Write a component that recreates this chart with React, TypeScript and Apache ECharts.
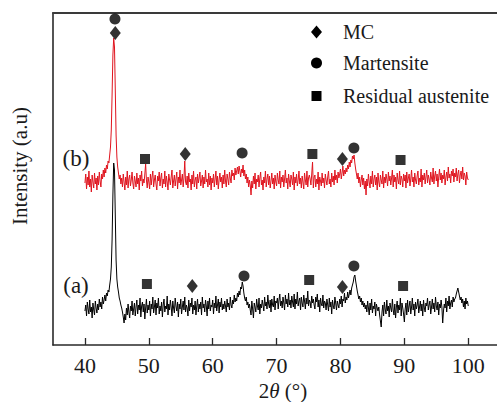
import React, { useEffect, useRef } from "react";
import * as echarts from "echarts";

const angleStart = 40;
const angleStep = 0.125;

// (a) trace, intensity (a.u.), 40° → 100° step 0.125°
const traceA = [
  34, 40, 29, 43, 36, 31, 45, 33, 38, 27, 42, 35, 30, 44, 37, 32,
  41, 35, 46, 38, 43, 36, 48, 41, 45, 50, 44, 52, 49, 55, 53, 60,
  66, 78, 105, 150, 182, 175, 130, 85, 66, 58, 53, 47, 44, 40, 37, 33,
  28, 22, 31, 25, 37, 30, 41, 33, 27, 39, 34, 44, 30, 36, 42, 29,
  38, 45, 31, 40, 35, 47, 28, 39, 43, 33, 41, 26, 37, 46, 32, 40,
  35, 44, 29, 41, 36, 48, 32, 38, 45, 30, 42, 37, 47, 31, 39, 34,
  43, 28, 40, 46, 33, 39, 36, 49, 30, 41, 35, 45, 38, 29, 44, 37,
  32, 47, 39, 34, 43, 28, 41, 36, 46, 31, 38, 44, 35, 48, 33, 40,
  37, 29, 45, 34, 42, 38, 47, 31, 40, 35, 44, 30, 39, 46, 33, 41,
  36, 43, 30, 48, 37, 41, 33, 45, 39, 29, 44, 36, 47, 34, 40, 38,
  45, 31, 42, 37, 49, 34, 40, 46, 32, 43, 38, 47, 35, 41, 36, 44,
  39, 33, 46, 38, 42, 35, 48, 40, 37, 45, 41, 50, 43, 47, 44, 52,
  48, 54, 50, 58, 56, 63, 59, 52, 47, 44, 48, 40, 43, 37, 41, 35,
  30, 44, 36, 27, 42, 38, 33, 46, 39, 35, 47, 31, 41, 37, 45, 40,
  34, 48, 39, 43, 36, 50, 41, 37, 45, 33, 46, 40, 38, 49, 35, 44,
  42, 47, 36, 45, 51, 39, 44, 37, 48, 42, 35, 50, 41, 46, 38, 52,
  40, 45, 37, 49, 43, 38, 51, 36, 46, 41, 53, 39, 44, 47, 35, 48,
  42, 38, 50, 44, 36, 47, 41, 54, 39, 45, 43, 37, 49, 42, 46, 40,
  36, 48, 43, 51, 38, 45, 33, 47, 41, 39, 50, 37, 44, 42, 35, 46,
  40, 34, 47, 38, 43, 31, 45, 39, 36, 48, 42, 35, 44, 40, 37, 46,
  41, 49, 38, 46, 44, 52, 42, 48, 45, 53, 47, 51, 55, 50, 57, 60,
  63, 68, 70, 64, 59, 54, 50, 46, 49, 43, 47, 40, 44, 38, 42, 36,
  40, 33, 44, 37, 30, 42, 35, 46, 32, 39, 36, 43, 29, 41, 37, 34,
  38, 30, 24, 18, 33, 40, 29, 43, 36, 31, 45, 34, 39, 28, 42, 37,
  33, 46, 35, 30, 41, 27, 38, 44, 32, 40, 35, 47, 29, 42, 37, 31,
  23, 36, 42, 30, 45, 33, 39, 44, 31, 38, 47, 35, 41, 29, 43, 36,
  40, 46, 32, 38, 44, 34, 41, 29, 45, 37, 33, 42, 39, 47, 35, 40,
  44, 31, 38, 46, 36, 42, 33, 48, 39, 35, 43, 30, 41, 37, 45, 38,
  22, 34, 41, 37, 47, 33, 44, 39, 49, 36, 42, 45, 38, 48, 43, 46,
  47, 51, 54, 57, 53, 49, 45, 48, 42, 46, 38, 44, 36, 47, 41, 44,
  39,
];

// (b) trace
const traceB = [
  162, 171, 156, 168, 160, 174, 158, 166, 153, 170, 163, 157, 172, 161, 167, 155,
  169, 160, 173, 164, 158, 171, 166, 175, 168, 177, 172, 180, 176, 184, 182, 190,
  198, 215, 250, 290, 307, 298, 255, 210, 188, 178, 172, 166, 170, 161, 167, 158,
  171, 163, 155, 168, 160, 174, 157, 166, 170, 159, 165, 173, 162, 156, 169, 164,
  158, 172, 161, 167, 155, 170, 164, 174, 159, 166, 162, 171, 181, 165, 157, 168,
  163, 156, 171, 160, 168, 174, 158, 165, 170, 161, 155, 169, 164, 173, 159, 167,
  172, 157, 166, 161, 174, 158, 169, 163, 155, 171, 165, 160, 168, 175, 157, 164,
  170, 159, 166, 173, 156, 168, 162, 175, 160, 165, 171, 158, 167, 184, 163, 160,
  169, 157, 172, 163, 166, 155, 170, 161, 174, 158, 165, 168, 156, 171, 162, 167,
  173, 159, 164, 170, 157, 168, 161, 175, 163, 166, 158, 172, 160, 169, 155, 167,
  162, 171, 158, 166, 174, 160, 169, 156, 165, 172, 163, 168, 157, 170, 161, 175,
  164, 158, 171, 166, 160, 173, 167, 162, 175, 169, 172, 165, 177, 170, 174, 178,
  171, 179, 174, 168, 176, 172, 180, 169, 175, 166, 171, 162, 168, 158, 165, 160,
  150, 164, 157, 169, 161, 172, 156, 166, 163, 170, 158, 167, 173, 160, 165, 155,
  168, 162, 174, 158, 166, 171, 160, 169, 157, 164, 172, 161, 167, 156, 170, 163,
  159, 172, 165, 161, 174, 157, 168, 163, 170, 158, 166, 175, 162, 167, 156, 171,
  164, 158, 170, 166, 160, 173, 155, 168, 162, 171, 159, 165, 174, 161, 167, 157,
  169, 163, 156, 172, 165, 160, 174, 158, 167, 170, 166, 160, 171, 183, 157, 168,
  170, 158, 166, 161, 173, 155, 168, 164, 159, 172, 162, 167, 157, 171, 165, 160,
  168, 174, 161, 166, 158, 172, 163, 169, 160, 175, 165, 170, 162, 173, 167, 171,
  176, 166, 172, 179, 169, 175, 171, 177, 173, 180, 176, 183, 178, 185, 182, 189,
  186, 190, 182, 176, 171, 166, 172, 162, 168, 158, 165, 170, 160, 167, 156, 164,
  150, 166, 159, 171, 163, 157, 169, 161, 174, 158, 166, 170, 160, 168, 155, 172,
  163, 158, 170, 165, 161, 174, 157, 168, 162, 171, 166, 159, 173, 164, 169, 160,
  167, 175, 158, 170, 163, 168, 156, 172, 165, 161, 174, 160, 169, 166, 158, 171,
  164, 170, 157, 173, 162, 167, 171, 159, 166, 175, 163, 168, 158, 172, 165, 161,
  169, 174, 160, 167, 163, 176, 158, 170, 165, 172, 161, 168, 175, 162, 170, 166,
  160, 173, 167, 163, 177, 161, 169, 174, 164, 171, 158, 168, 176, 165, 172, 162,
  170, 166, 175, 160, 168, 173, 164, 178, 167, 171, 162, 174, 169, 176, 163, 172,
  168, 177, 164, 171, 175, 162, 170, 174, 166, 178, 165, 172, 169, 160, 173, 167,
  165,
];

const tickValues = [40, 50, 60, 70, 80, 90, 100];

// phase markers [2θ, intensity]
const mcPoints = [
  [44.75, 312],
  [55.7, 191],
  [80.3, 186],
  [56.8, 59],
  [80.3, 58],
];
const martensitePoints = [
  [44.7, 326],
  [64.6, 192],
  [82.1, 197],
  [64.9, 69],
  [82.1, 79],
];
const austenitePoints = [
  [49.4, 186],
  [75.6, 191],
  [89.4, 185],
  [49.7, 61],
  [75.1, 65],
  [89.8, 59],
];

const phaseNames = ["MC", "Martensite", "Residual austenite"];
const sampleLabels = ["(a)", "(b)"];

const FONT = "Liberation Serif";

export default function App() {
  const ref = useRef<HTMLDivElement>(null);

  useEffect(() => {
    if (!ref.current) return;
    const chart = echarts.init(ref.current, undefined, { renderer: "svg" });

    const toPairs = (arr: number[]) =>
      arr.map((v, i) => [angleStart + angleStep * i, v]);

    const textStyle = (extra: any) => ({
      fontFamily: FONT,
      fill: "#1a1a1a",
      ...extra,
    });

    chart.setOption({
      animation: false,
      backgroundColor: "#ffffff",
      grid: { left: 53, right: 0, top: 13, bottom: 57 },
      xAxis: [
        {
          type: "value",
          min: 35,
          max: 104.5,
          axisLine: { show: true, onZero: false, lineStyle: { color: "#2a2a2a", width: 1.6 } },
          axisTick: {
            show: true,
            inside: true,
            length: 7,
            customValues: tickValues,
            lineStyle: { color: "#2a2a2a", width: 1.3 },
          },
          axisLabel: {
            customValues: tickValues,
            fontFamily: FONT,
            fontSize: 22,
            color: "#1a1a1a",
            margin: 9,
          },
          splitLine: { show: false },
        },
        {
          type: "value",
          position: "top",
          min: 35,
          max: 104.5,
          axisLine: { show: true, onZero: false, lineStyle: { color: "#3a3a3a", width: 2 } },
          axisTick: { show: false },
          axisLabel: { show: false },
          splitLine: { show: false },
        },
      ],
      yAxis: {
        type: "value",
        min: 0,
        max: 332,
        axisLine: { show: true, onZero: false, lineStyle: { color: "#2a2a2a", width: 1.6 } },
        axisTick: { show: false },
        axisLabel: { show: false },
        splitLine: { show: false },
      },
      series: [
        {
          name: sampleLabels[0],
          type: "line",
          data: toPairs(traceA),
          showSymbol: false,
          symbol: "none",
          lineStyle: { color: "#000000", width: 1 },
          z: 2,
        },
        {
          name: sampleLabels[1],
          type: "line",
          data: toPairs(traceB),
          showSymbol: false,
          symbol: "none",
          lineStyle: { color: "#e0141e", width: 1 },
          z: 3,
        },
        {
          name: phaseNames[0],
          type: "scatter",
          data: mcPoints,
          symbol: "diamond",
          symbolSize: [11, 14],
          itemStyle: { color: "#000000" },
          z: 5,
        },
        {
          name: phaseNames[1],
          type: "scatter",
          data: martensitePoints,
          symbol: "circle",
          symbolSize: 11,
          itemStyle: { color: "#000000" },
          z: 5,
        },
        {
          name: phaseNames[2],
          type: "scatter",
          data: austenitePoints,
          symbol: "rect",
          symbolSize: 10,
          itemStyle: { color: "#000000" },
          z: 5,
        },
      ],
      graphic: [
        {
          type: "polygon",
          shape: { points: [[316.5, 25.5], [322, 32], [316.5, 38.5], [311, 32]] },
          style: { fill: "#000" },
        },
        { type: "circle", shape: { cx: 316.5, cy: 63, r: 5.5 }, style: { fill: "#000" } },
        { type: "rect", shape: { x: 311.5, y: 91, width: 10, height: 10 }, style: { fill: "#000" } },
        ...phaseNames.map((name, i) => ({
          type: "text",
          x: 343,
          y: [32, 63, 96][i],
          style: textStyle({
            text: name,
            fontSize: 20,
            verticalAlign: "middle",
            textVerticalAlign: "middle",
          }),
        })),
        {
          type: "text",
          x: 76,
          y: 285,
          style: textStyle({
            text: sampleLabels[0],
            fontSize: 23,
            align: "center",
            textAlign: "center",
            verticalAlign: "middle",
            textVerticalAlign: "middle",
          }),
        },
        {
          type: "text",
          x: 76,
          y: 158,
          style: textStyle({
            text: sampleLabels[1],
            fontSize: 23,
            align: "center",
            textAlign: "center",
            verticalAlign: "middle",
            textVerticalAlign: "middle",
          }),
        },
        {
          type: "text",
          x: 20,
          y: 166,
          rotation: Math.PI / 2,
          style: textStyle({
            text: "Intensity (a.u)",
            fontSize: 21,
            align: "center",
            textAlign: "center",
            verticalAlign: "middle",
            textVerticalAlign: "middle",
          }),
        },
        {
          type: "text",
          x: 283,
          y: 391,
          style: textStyle({
            text: "2{it|θ} (°)",
            fontSize: 21,
            align: "center",
            textAlign: "center",
            verticalAlign: "middle",
            textVerticalAlign: "middle",
            rich: {
              it: { fontFamily: FONT, fontSize: 21, fontStyle: "italic", fill: "#1a1a1a" },
            },
          }),
        },
      ],
    });

    return () => chart.dispose();
  }, []);

  return (
    <div
      ref={ref}
      style={{ position: "fixed", left: 0, top: 0, width: 497, height: 402, background: "#fff" }}
    />
  );
}
